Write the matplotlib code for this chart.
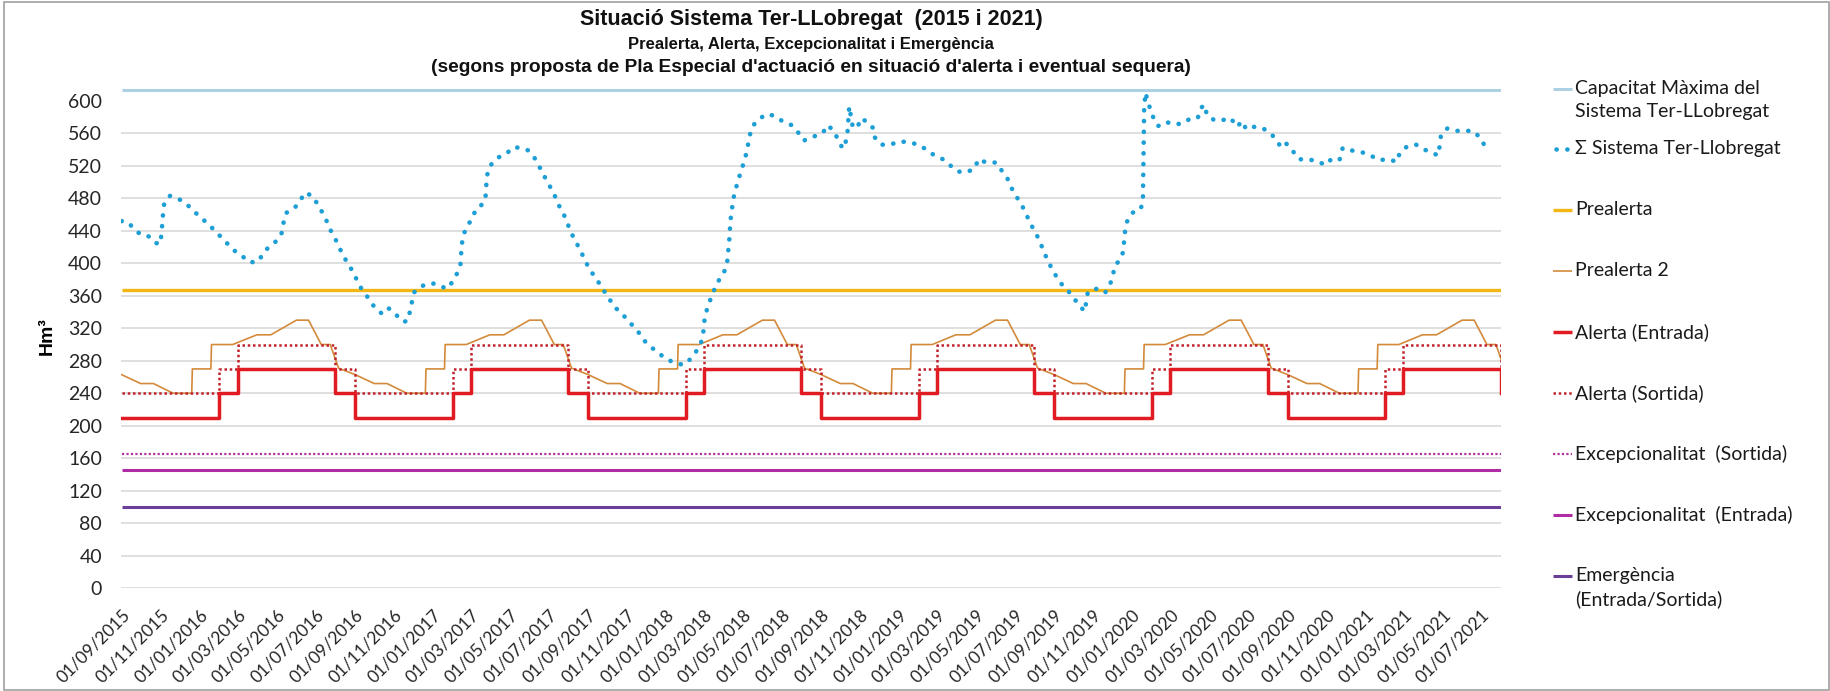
import matplotlib
matplotlib.use('Agg')
import matplotlib.pyplot as plt
import matplotlib.dates as mdates
import pandas as pd
from matplotlib.lines import Line2D
from matplotlib.patches import Rectangle

# ---------------- data ----------------
x_start = '2015-09-01'
x_end = '2021-08-01'

capacitat_maxima = 613
prealerta = 367
excep_sortida = 165
excep_entrada = 145
emergencia = 100

# hydrological years (Sep -> Aug) for the seasonal thresholds
hydro_years = [2015, 2016, 2017, 2018, 2019, 2020]
alerta_md = ['09-01', '02-01', '03-01', '08-01']
alerta_entrada_levels = [210, 240, 270, 240]
alerta_sortida_levels = [240, 270, 300, 270]

prealerta2_md = ['09-01', '10-01', '10-21', '11-21', '12-20', '12-21', '01-19', '01-20',
                 '02-22', '03-31', '04-22', '06-01', '06-20', '07-10', '07-24', '08-06']
prealerta2_levels = [263, 252, 252, 240, 240, 270, 270, 300,
                     300, 312, 312, 330, 330, 300, 300, 271]

sistema_dates = [
    '2015-09-01', '2015-09-12', '2015-09-22', '2015-10-02', '2015-10-14', '2015-10-24', '2015-11-01',
    '2015-11-03', '2015-11-05', '2015-11-07', '2015-11-16', '2015-11-30', '2015-12-12', '2015-12-23',
    '2016-01-03', '2016-01-12', '2016-01-23', '2016-02-03', '2016-02-13', '2016-02-24', '2016-03-07',
    '2016-03-17', '2016-03-30', '2016-04-06', '2016-04-13', '2016-04-23', '2016-05-04', '2016-05-10',
    '2016-05-12', '2016-05-16', '2016-05-29', '2016-06-07', '2016-06-14', '2016-06-26', '2016-07-04',
    '2016-07-12', '2016-07-19', '2016-07-25', '2016-08-01', '2016-08-08', '2016-08-15', '2016-08-23',
    '2016-08-31', '2016-09-06', '2016-09-14', '2016-09-23', '2016-10-02', '2016-10-13', '2016-10-22',
    '2016-10-27', '2016-11-05', '2016-11-15', '2016-11-22', '2016-11-26', '2016-12-02', '2016-12-12',
    '2016-12-24', '2017-01-04', '2017-01-15', '2017-01-24', '2017-02-01', '2017-02-08', '2017-02-13',
    '2017-02-15', '2017-02-18', '2017-02-24', '2017-03-03', '2017-03-09', '2017-03-17', '2017-03-24',
    '2017-03-26', '2017-03-28', '2017-04-04', '2017-04-15', '2017-04-26', '2017-05-07', '2017-05-18',
    '2017-05-30', '2017-06-08', '2017-06-14', '2017-06-21', '2017-06-28', '2017-07-05', '2017-07-12',
    '2017-07-18', '2017-07-24', '2017-07-30', '2017-08-05', '2017-08-11', '2017-08-19', '2017-08-25',
    '2017-09-01', '2017-09-09', '2017-09-17', '2017-09-25', '2017-10-03', '2017-10-11', '2017-10-20',
    '2017-10-31', '2017-11-09', '2017-11-19', '2017-11-29', '2017-12-10', '2017-12-21', '2018-01-02',
    '2018-01-16', '2018-01-29', '2018-02-08', '2018-02-16', '2018-02-24', '2018-02-28', '2018-03-03',
    '2018-03-08', '2018-03-13', '2018-03-19', '2018-03-26', '2018-04-03', '2018-04-07', '2018-04-10',
    '2018-04-12', '2018-04-16', '2018-04-19', '2018-04-24', '2018-04-28', '2018-05-03', '2018-05-07',
    '2018-05-10', '2018-05-13', '2018-05-19', '2018-05-29', '2018-06-10', '2018-06-23', '2018-07-04',
    '2018-07-17', '2018-07-27', '2018-08-05', '2018-08-13', '2018-08-24', '2018-09-04', '2018-09-11',
    '2018-09-21', '2018-09-28', '2018-10-05', '2018-10-09', '2018-10-12', '2018-10-14', '2018-10-15',
    '2018-10-20', '2018-10-28', '2018-11-01', '2018-11-08', '2018-11-14', '2018-11-21', '2018-11-24',
    '2018-12-04', '2018-12-18', '2019-01-02', '2019-01-17', '2019-01-31', '2019-02-13', '2019-02-25',
    '2019-03-11', '2019-03-23', '2019-04-03', '2019-04-17', '2019-04-30', '2019-05-05', '2019-05-18',
    '2019-06-02', '2019-06-11', '2019-06-20', '2019-06-26', '2019-07-04', '2019-07-12', '2019-07-19',
    '2019-07-25', '2019-08-02', '2019-08-09', '2019-08-15', '2019-08-21', '2019-08-28', '2019-09-05',
    '2019-09-14', '2019-09-24', '2019-10-03', '2019-10-12', '2019-10-20', '2019-10-21', '2019-10-24',
    '2019-11-08', '2019-11-20', '2019-11-28', '2019-12-02', '2019-12-05', '2019-12-14', '2019-12-18',
    '2019-12-21', '2019-12-24', '2020-01-01', '2020-01-14', '2020-01-18', '2020-01-19', '2020-01-20',
    '2020-01-22', '2020-01-25', '2020-01-29', '2020-02-04', '2020-02-11', '2020-02-23', '2020-03-07',
    '2020-03-20', '2020-04-01', '2020-04-13', '2020-04-19', '2020-04-24', '2020-04-27', '2020-05-09',
    '2020-05-21', '2020-06-03', '2020-06-14', '2020-06-21', '2020-06-28', '2020-07-09', '2020-07-22',
    '2020-08-04', '2020-08-14', '2020-08-22', '2020-08-30', '2020-09-10', '2020-09-19', '2020-10-02',
    '2020-10-16', '2020-10-30', '2020-11-08', '2020-11-21', '2020-11-26', '2020-12-09', '2020-12-25',
    '2021-01-08', '2021-01-22', '2021-02-05', '2021-02-19', '2021-02-23', '2021-03-07', '2021-03-21',
    '2021-04-03', '2021-04-17', '2021-04-25', '2021-04-29', '2021-05-09', '2021-05-23', '2021-06-06',
    '2021-06-18', '2021-06-29', '2021-07-07']
sistema_values = [
    452, 450, 441, 435, 433, 425, 424,
    440, 460, 474, 483, 479, 473, 464,
    457, 450, 442, 433, 425, 416, 410,
    402, 401, 407, 416, 422, 430, 439,
    451, 462, 468, 477, 487, 483, 473,
    462, 451, 440, 430, 418, 407, 397,
    386, 375, 365, 356, 345, 338, 345,
    343, 336, 328, 329, 341, 364, 371,
    375, 375, 371, 369, 378, 388, 399,
    423, 436, 446, 455, 466, 471, 478,
    503, 514, 524, 531, 535, 543, 542,
    539, 531, 523, 512, 502, 492, 481,
    470, 462, 450, 439, 428, 418, 407,
    396, 386, 377, 367, 358, 347, 341,
    332, 324, 315, 304, 296, 289, 282,
    277, 275, 282, 290, 300, 312, 336,
    347, 359, 370, 381, 391, 403, 428,
    453, 477, 489, 501, 513, 524, 536,
    548, 560, 571, 579, 584, 580, 574,
    570, 561, 551, 554, 557, 561, 570,
    563, 551, 541, 548, 558, 582, 593,
    570, 566, 578, 576, 570, 567, 555,
    546, 546, 550, 549, 546, 540, 533,
    528, 520, 513, 512, 517, 528, 524,
    524, 514, 504, 493, 482, 472, 461,
    450, 439, 428, 416, 405, 394, 383,
    373, 365, 356, 346, 341, 354, 365,
    369, 364, 375, 385, 397, 405, 414,
    439, 451, 462, 466, 475, 530, 590,
    610, 602, 591, 578, 569, 574, 571,
    572, 578, 579, 592, 595, 583, 576,
    576, 579, 568, 575, 565, 568, 567,
    561, 552, 542, 547, 537, 528, 528,
    526, 521, 528, 527, 542, 539, 537,
    533, 527, 528, 525, 535, 544, 546,
    540, 535, 533, 558, 566, 563, 563,
    563, 555, 544]

y_ticks = list(range(0, 601, 40))

legend_labels = ['Capacitat Màxima del\nSistema Ter-LLobregat', 'Σ Sistema Ter-Llobregat', 'Prealerta',
                 'Prealerta 2', 'Alerta (Entrada)', 'Alerta (Sortida)', 'Excepcionalitat  (Sortida)',
                 'Excepcionalitat  (Entrada)', 'Emergència\n(Entrada/Sortida)']

title_lines = ['Situació Sistema Ter-LLobregat  (2015 i 2021)',
               'Prealerta, Alerta, Excepcionalitat i Emergència',
               "(segons proposta de Pla Especial d'actuació en situació d'alerta i eventual sequera)"]

# ---------------- helpers ----------------
def seasonal(md_list, levels):
    dates, vals = [], []
    for y in hydro_years:
        for md, v in zip(md_list, levels):
            yr = y if int(md[:2]) >= 9 else y + 1
            dates.append(pd.Timestamp(f'{yr}-{md}'))
            vals.append(v)
    return dates, vals

ae_d, ae_v = seasonal(alerta_md, alerta_entrada_levels)
as_d, as_v = seasonal(alerta_md, alerta_sortida_levels)
ae_d.append(pd.Timestamp(x_end)); ae_v.append(alerta_entrada_levels[-1])
as_d.append(pd.Timestamp(x_end)); as_v.append(alerta_sortida_levels[-1])
p2_d, p2_v = seasonal(prealerta2_md, prealerta2_levels)

# ---------------- styles ----------------
C_CAP, C_SIS, C_PRE, C_P2 = '#ADD0E2', '#1D9FD5', '#F2B714', '#D38A3B'
C_AE, C_AS, C_XS, C_XE, C_EM = '#E01B22', '#C0232B', '#B0339E', '#B02CA5', '#6B3F98'
SIS_LS = (0, (0.05, 2.3))

# ---------------- figure ----------------
W, H, DPI = 1831, 691, 100
fig = plt.figure(figsize=(W / DPI, H / DPI), dpi=DPI)
fig.patch.set_facecolor('white')

L_px, R_px = 121.5, 1501
y0_px, px_per_unit = 588.3, 0.8125
y_top = 620
top_px = y0_px - y_top * px_per_unit
ax = fig.add_axes([L_px / W, 1 - y0_px / H, (R_px - L_px) / W, (y0_px - top_px) / H])

xs = [pd.Timestamp(x_start), pd.Timestamp(x_end)]
ax.set_xlim(xs)
ax.set_ylim(0, y_top)

ax.set_yticks(y_ticks)
ax.yaxis.grid(True, color='#D9D9D9', lw=1.2)
ax.set_axisbelow(True)
ax.get_ygridlines()[-1].set_visible(False)
for s in ax.spines.values():
    s.set_visible(False)

ax.plot(xs, [capacitat_maxima] * 2, color=C_CAP, lw=2.2, solid_capstyle='butt')
ax.plot(xs, [prealerta] * 2, color=C_PRE, lw=2.4, solid_capstyle='butt')
ax.plot(xs, [excep_sortida] * 2, color=C_XS, lw=1.6, ls=(0, (1, 1)))
ax.plot(xs, [excep_entrada] * 2, color=C_XE, lw=2.2, solid_capstyle='butt')
ax.plot(xs, [emergencia] * 2, color=C_EM, lw=2.2, solid_capstyle='butt')
ax.plot(p2_d, p2_v, color=C_P2, lw=1.2)
ax.plot(as_d, as_v, color=C_AS, lw=1.8, ls=(0, (1, 1.1)), drawstyle='steps-post')
ax.plot(ae_d, ae_v, color=C_AE, lw=2.5, drawstyle='steps-post')
ax.plot(pd.to_datetime(sistema_dates), sistema_values, color=C_SIS, lw=3.3,
        ls=SIS_LS, dash_capstyle='round')

ax.xaxis.set_major_locator(mdates.MonthLocator(bymonth=[1, 3, 5, 7, 9, 11], bymonthday=1))
ax.xaxis.set_major_formatter(mdates.DateFormatter('%d/%m/%Y'))
ax.tick_params(axis='both', length=0)
ax.tick_params(axis='x', pad=13, labelsize=12.5, labelcolor='#262626')
ax.tick_params(axis='y', pad=14, labelsize=14, labelcolor='#262626')
for lab in ax.get_xticklabels():
    lab.set_rotation(45)
    lab.set_ha('right')
    lab.set_rotation_mode('anchor')
    lab.set_family(['Lato', 'DejaVu Sans'])
for lab in ax.get_yticklabels():
    lab.set_family(['Lato', 'DejaVu Sans'])

ax.set_ylabel('Hm³', fontsize=14, fontweight='bold', family=['Liberation Sans', 'DejaVu Sans'],
              labelpad=9)

# titles
cx = (L_px + R_px) / 2 / W
for txt, yp, fs in zip(title_lines, [20, 44, 67], [15.5, 12, 13.8]):
    fig.text(cx, 1 - yp / H, txt, ha='center', va='center', fontsize=fs, fontweight='bold',
             family=['Liberation Sans', 'DejaVu Sans'], color='#111111')

# legend (manual, right side)
legend_styles = [
    dict(color=C_CAP, lw=2.2),
    dict(color=C_SIS, lw=3.3, ls=SIS_LS, dash_capstyle='round'),
    dict(color=C_PRE, lw=2.4),
    dict(color=C_P2, lw=1.2),
    dict(color=C_AE, lw=2.5),
    dict(color=C_AS, lw=1.8, ls=(0, (1, 1.1))),
    dict(color=C_XS, lw=1.6, ls=(0, (1, 1))),
    dict(color=C_XE, lw=2.2),
    dict(color=C_EM, lw=2.2),
]
legend_y = [89, 149, 210, 271, 332, 393, 454, 515, 576]
for i, (lab, st, yp) in enumerate(zip(legend_labels, legend_styles, legend_y)):
    yf = 1 - yp / H
    xs_l = [1556 / W, 1570 / W] if i == 1 else [1553 / W, 1572 / W]
    fig.add_artist(Line2D(xs_l, [yf, yf], transform=fig.transFigure, solid_capstyle='butt', **st))
    fig.text(1575 / W, 1 - (yp - 9) / H, lab, ha='left', va='top', fontsize=14,
             family=['Lato', 'DejaVu Sans'], color='#1a1a1a', linespacing=1.45)

# chart border
fig.add_artist(Rectangle((4 / W, 1 / H), (W - 6) / W, (H - 3) / H, transform=fig.transFigure,
                         fill=False, edgecolor='#A0A0A0', lw=1.2))

fig.savefig('out.png', dpi=DPI, facecolor='white')
